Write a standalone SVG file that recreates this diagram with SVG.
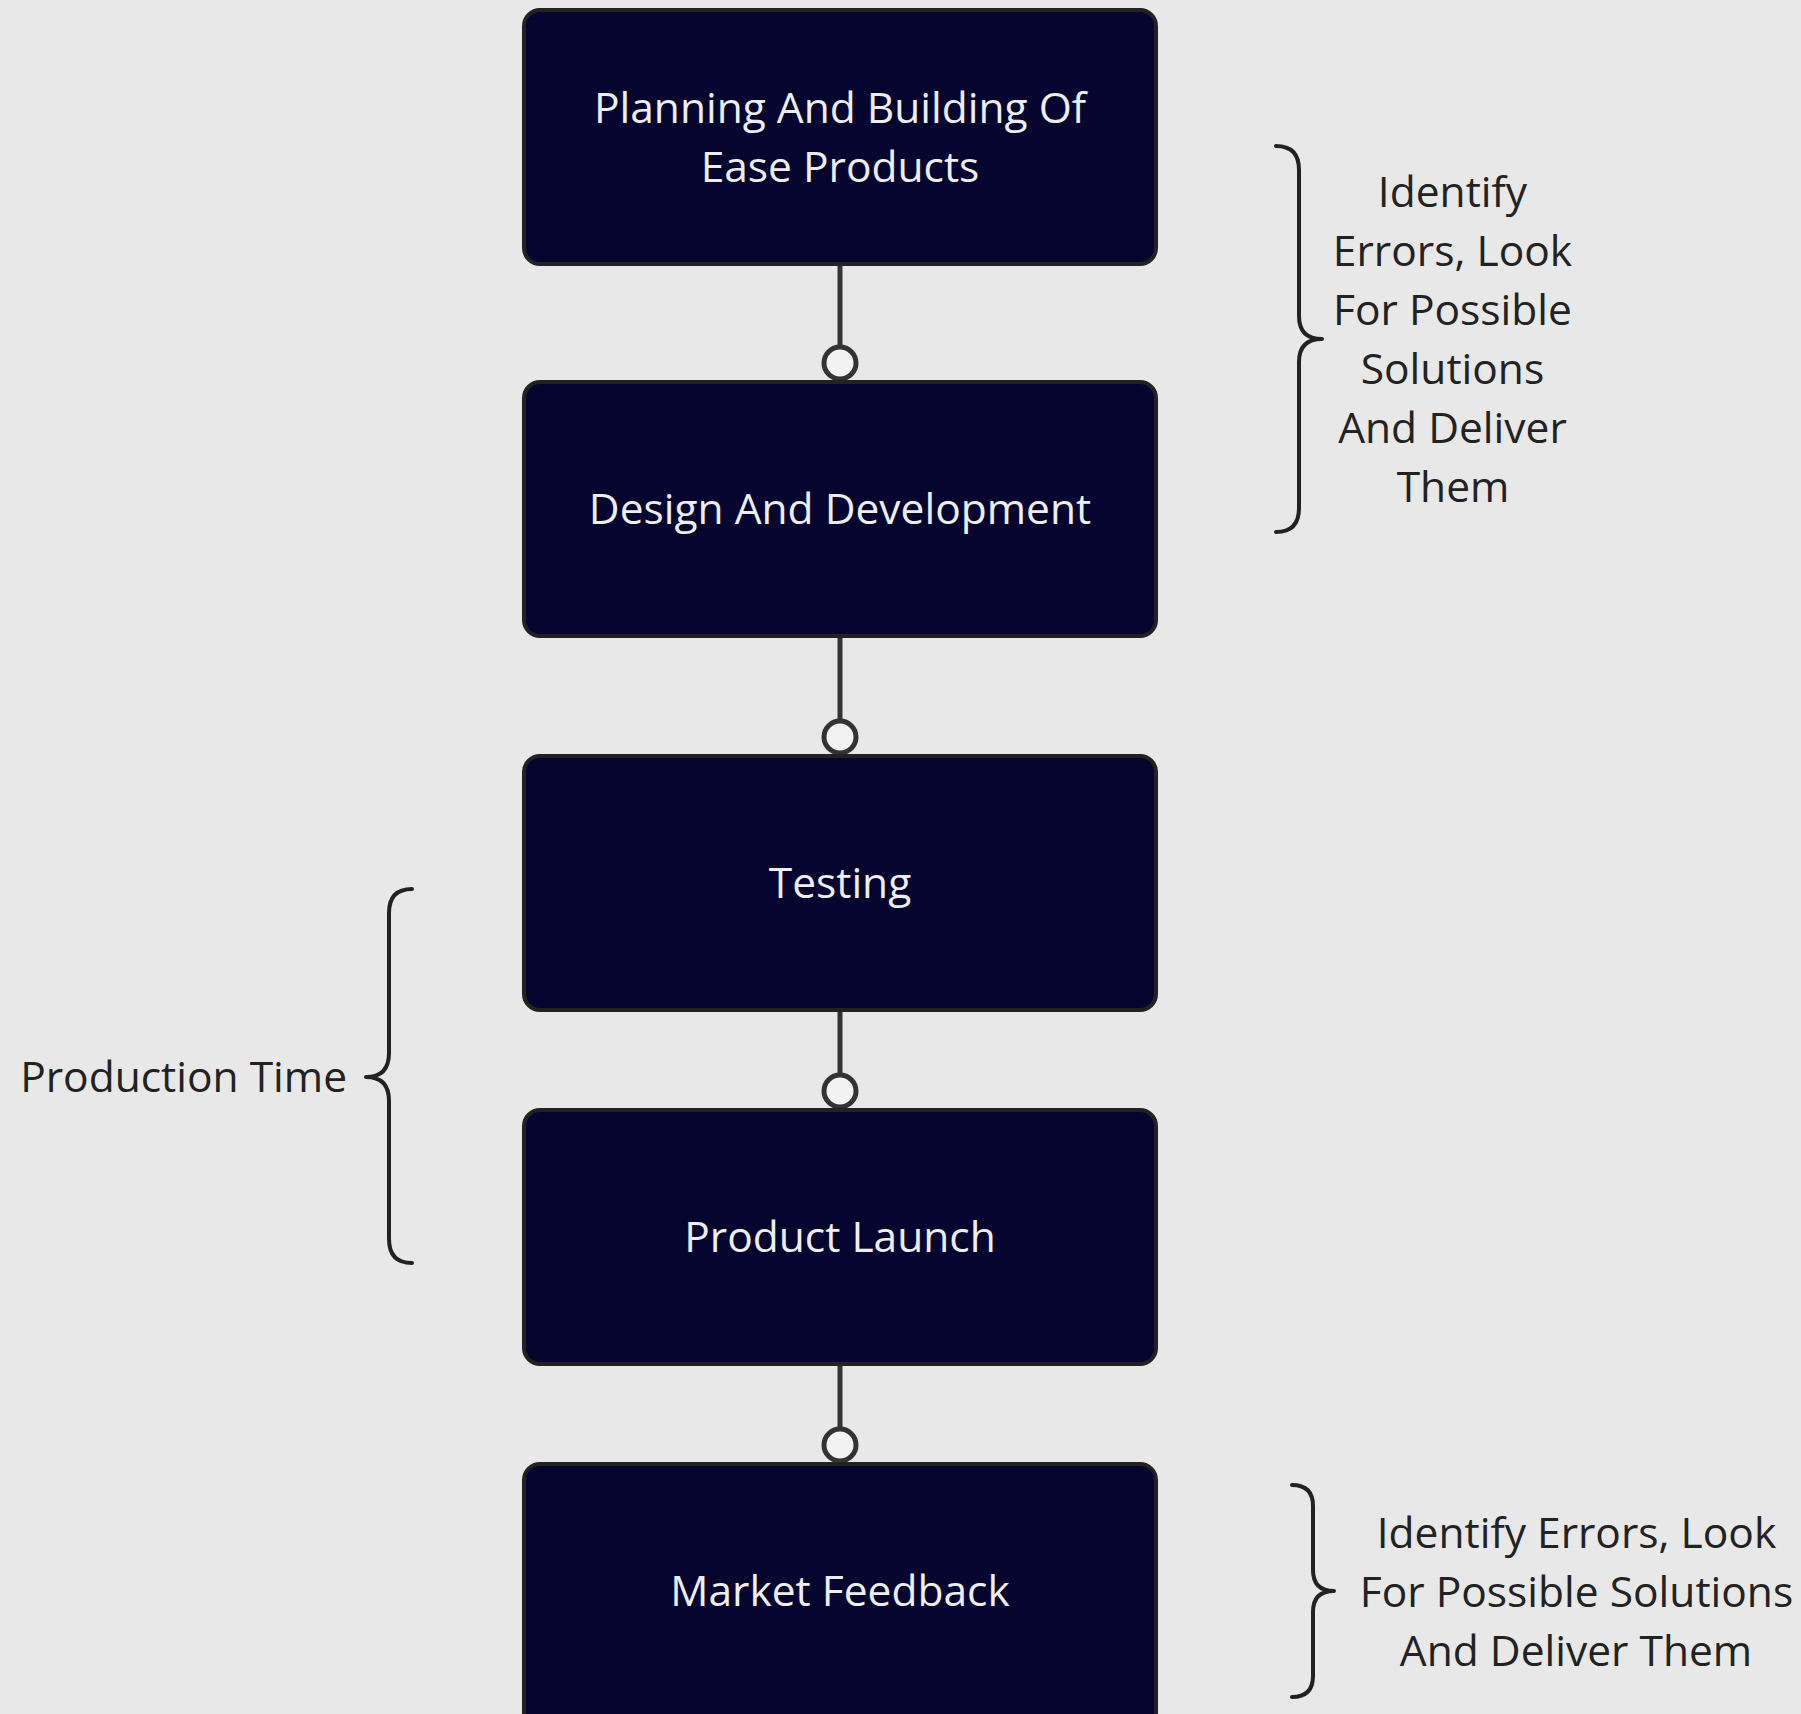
<svg xmlns="http://www.w3.org/2000/svg" width="1801" height="1714" viewBox="0 0 1801 1714">
  <style>
    .node rect { fill: #050530; stroke: #222222; stroke-width: 4; }
    .node text { fill: #eeeeee; font-family: "Open Sans", "Liberation Sans", sans-serif; font-size: 42.5px; text-anchor: middle; }
    .edge line { stroke: #333333; stroke-width: 5; }
    .edge circle { fill: #f2f2f2; stroke: #333333; stroke-width: 5; }
    .brace { fill: none; stroke: #222222; stroke-width: 4; stroke-linecap: round; stroke-linejoin: round; }
    .note { fill: #222222; font-family: "Open Sans", "Liberation Sans", sans-serif; font-size: 42.5px; }
  </style>
  <rect width="1801" height="1714" fill="#e8e8e8"/>

  <!-- connectors: stem from box bottom, ring at the next box top -->
  <g id="connectors" class="edge">
    <line x1="840" y1="264" x2="840" y2="345"/>
    <circle cx="840" cy="363" r="16"/>
    <line x1="840" y1="636" x2="840" y2="719"/>
    <circle cx="840" cy="737" r="16"/>
    <line x1="840" y1="1010" x2="840" y2="1073"/>
    <circle cx="840" cy="1091" r="16"/>
    <line x1="840" y1="1364" x2="840" y2="1427"/>
    <circle cx="840" cy="1445" r="16"/>
  </g>

  <g id="node-planning" class="node">
    <rect x="524" y="10" width="632" height="254" rx="16"/>
    <text x="840" y="123">Planning And Building Of</text>
    <text x="840" y="182">Ease Products</text>
  </g>
  <g id="node-design" class="node">
    <rect x="524" y="382" width="632" height="254" rx="16"/>
    <text x="840" y="524">Design And Development</text>
  </g>
  <g id="node-testing" class="node">
    <rect x="524" y="756" width="632" height="254" rx="16"/>
    <text x="840" y="898">Testing</text>
  </g>
  <g id="node-launch" class="node">
    <rect x="524" y="1110" width="632" height="254" rx="16"/>
    <text x="840" y="1252">Product Launch</text>
  </g>
  <g id="node-feedback" class="node">
    <rect x="524" y="1464" width="632" height="270" rx="16"/>
    <text x="840" y="1606">Market Feedback</text>
  </g>

  <!-- annotation braces -->
  <g id="note-top">
    <path class="brace" d="M1276,146 Q1299,146 1299,170 L1299,316 Q1299,339 1322,339 Q1299,339 1299,362 L1299,508 Q1299,532 1276,532"/>
    <text class="note" text-anchor="middle">
      <tspan x="1458" y="207">Identify</tspan>
      <tspan x="1458" y="266">Errors, Look</tspan>
      <tspan x="1458" y="325">For Possible</tspan>
      <tspan x="1458" y="384">Solutions</tspan>
      <tspan x="1458" y="443">And Deliver</tspan>
      <tspan x="1453" y="502">Them</tspan>
    </text>
  </g>
  <g id="note-production">
    <path class="brace" d="M412,889 Q389,889 389,913 L389,1053 Q389,1077 366,1077 Q389,1077 389,1101 L389,1239 Q389,1263 412,1263"/>
    <text class="note" x="347" y="1092" text-anchor="end">Production Time</text>
  </g>
  <g id="note-bottom">
    <path class="brace" d="M1292,1485 Q1313,1485 1313,1506 L1313,1570 Q1313,1591 1334,1591 Q1313,1591 1313,1612 L1313,1676 Q1313,1697 1292,1697"/>
    <text class="note" text-anchor="middle">
      <tspan x="1582" y="1548">Identify Errors, Look</tspan>
      <tspan x="1582" y="1607">For Possible Solutions</tspan>
      <tspan x="1576" y="1666">And Deliver Them</tspan>
    </text>
  </g>
</svg>
